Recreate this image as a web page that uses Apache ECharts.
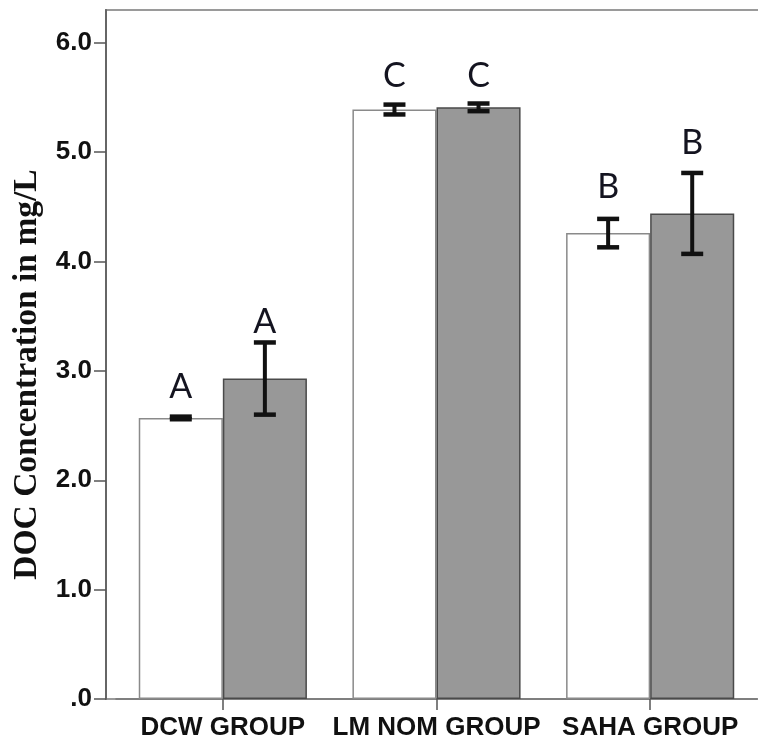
<!DOCTYPE html>
<html>
<head>
<meta charset="utf-8">
<script src="https://cdn.jsdelivr.net/npm/echarts@6/dist/echarts.min.js"></script>
<style>
  html, body { margin: 0; padding: 0; background: #fff; }
  #chart { width: 758px; height: 746px; }
</style>
</head>
<body>
<div id="chart"></div>
<script>
// Group names on the category axis
const categories = ['DCW GROUP', 'LM NOM GROUP', 'SAHA GROUP'];
// Mean DOC (mg/L) and error half-width, first bar of each group (white)
const whiteMeans = [2.57, 5.39, 4.26];
const whiteErr = [0.012, 0.045, 0.13];
// Mean DOC (mg/L) and error half-width, second bar of each group (grey)
const grayMeans = [2.93, 5.41, 4.44];
const grayErr = [0.33, 0.035, 0.37];
// Significance letters and the value at which each letter is centred
const whiteLetters = ['A', 'C', 'B'];
const whiteLetterY = [2.85, 5.70, 4.68];
const grayLetters = ['A', 'C', 'B'];
const grayLetterY = [3.445, 5.70, 5.08];
// Value-axis ticks and range
const yTicks = [0, 1, 2, 3, 4, 5, 6];
const yMax = 6.30;

const GAP = 0.213;   // share of each category band left empty

function errorSeries(name, means, errs, letters, letterY, side) {
  return {
    name: name,
    type: 'custom',
    xAxisIndex: 1,
    yAxisIndex: 1,
    z: 5,
    data: categories.map((c, i) => [i, means[i] - errs[i], means[i] + errs[i], letterY[i]]),
    renderItem: function (params, api) {
      const i = api.value(0);
      const lo = api.coord([i, api.value(1)]);
      const hi = api.coord([i, api.value(2)]);
      const lt = api.coord([i, api.value(3)]);
      const band = api.size([1, 0])[0];
      const barW = band * (1 - GAP) / 2;
      const x = lo[0] + side * barW / 2;
      const cap = 11;
      const ink = '#111';
      return {
        type: 'group',
        children: [
          { type: 'line', shape: { x1: x, y1: hi[1], x2: x, y2: lo[1] },
            style: { stroke: ink, lineWidth: 4 } },
          { type: 'line', shape: { x1: x - cap, y1: hi[1], x2: x + cap, y2: hi[1] },
            style: { stroke: ink, lineWidth: 4.5 } },
          { type: 'line', shape: { x1: x - cap, y1: lo[1], x2: x + cap, y2: lo[1] },
            style: { stroke: ink, lineWidth: 4.5 } },
          { type: 'text', x: x, y: lt[1],
            style: { text: letters[params.dataIndex], align: 'center', verticalAlign: 'middle',
                     font: '34px Lato', fill: '#141420' } }
        ]
      };
    }
  };
}

const chart = echarts.init(document.getElementById('chart'), null, { renderer: 'canvas' });

chart.setOption({
  animation: false,
  backgroundColor: '#fff',
  grid: [
    // outer frame carrying the value axis
    { left: 106, top: 10, right: -20, bottom: 47, show: true, outerBoundsMode: 'none',
      borderColor: '#9a9a9a', borderWidth: 2, backgroundColor: 'transparent' },
    // plotting area for the bars
    { left: 116, top: 10, right: 1, bottom: 47, outerBoundsMode: 'none' }
  ],
  xAxis: [
    { type: 'value', gridIndex: 0, show: false, min: 0, max: 1 },
    {
      type: 'category', gridIndex: 1, data: categories,
      axisLine: { show: true, lineStyle: { color: '#777', width: 1.5 } },
      axisTick: { show: true, alignWithLabel: true, length: 11, lineStyle: { color: '#555', width: 1.5 } },
      axisLabel: { interval: 0, margin: 16, color: '#111',
                   fontFamily: 'Liberation Sans', fontWeight: 'bold', fontSize: 26 }
    }
  ],
  yAxis: [
    {
      type: 'value', gridIndex: 0, min: 0, max: yMax, interval: 1,
      name: 'DOC Concentration in mg/L',
      nameLocation: 'middle', nameGap: 62,
      nameTextStyle: { fontFamily: 'Liberation Serif', fontWeight: 'bold', fontSize: 33.5,
                       color: '#111', padding: [0, 40, 0, 0] },
      axisLine: { show: true, lineStyle: { color: '#666', width: 2 } },
      axisTick: { show: true, length: 12, customValues: yTicks, lineStyle: { color: '#555', width: 1.5 } },
      axisLabel: { customValues: yTicks, margin: 14, color: '#111',
                   fontFamily: 'Liberation Sans', fontWeight: 'bold', fontSize: 26,
                   formatter: v => v === 0 ? '.0' : v.toFixed(1) },
      splitLine: { show: false }
    },
    { type: 'value', gridIndex: 1, min: 0, max: yMax, show: false, splitLine: { show: false } }
  ],
  series: [
    {
      name: 'white', type: 'bar', xAxisIndex: 1, yAxisIndex: 1,
      data: whiteMeans, barGap: '0%', barCategoryGap: (GAP * 100) + '%',
      itemStyle: { color: '#ffffff', borderColor: '#8a8a8a', borderWidth: 1.5 }
    },
    {
      name: 'grey', type: 'bar', xAxisIndex: 1, yAxisIndex: 1,
      data: grayMeans, barGap: '0%', barCategoryGap: (GAP * 100) + '%',
      itemStyle: { color: '#989898', borderColor: '#4a4a4a', borderWidth: 1.5 }
    },
    errorSeries('white error', whiteMeans, whiteErr, whiteLetters, whiteLetterY, -1),
    errorSeries('grey error', grayMeans, grayErr, grayLetters, grayLetterY, 1)
  ]
});
</script>
</body>
</html>
